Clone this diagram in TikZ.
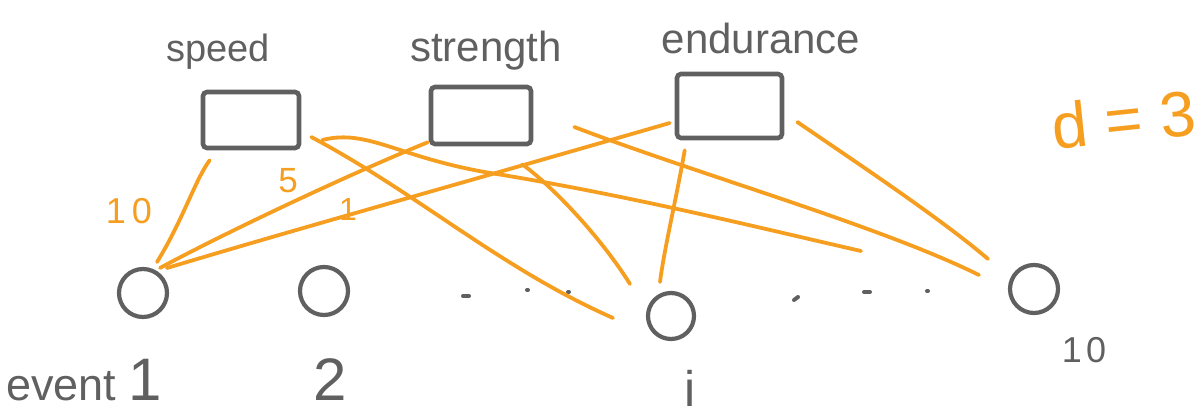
\documentclass[tikz,border=0pt]{standalone}
\usepackage{fontspec}
\setmainfont{Liberation Sans}
\usetikzlibrary{calc}
\definecolor{ink}{RGB}{96,96,96}
\definecolor{pen}{RGB}{246,158,32}
\newcommand{\fsz}[1]{\fontsize{#1}{#1}\selectfont}
\begin{document}
\begin{tikzpicture}[x=1pt,y=-1pt,
  attr/.style={draw=ink, line width=4.6pt, rounded corners=4pt, inner sep=0pt},
  event/.style={draw=ink, line width=4.2pt, circle, inner sep=0pt, minimum size=#1},
  link/.style={draw=pen, line width=3.8pt, line cap=round},
  word/.style={text=ink, inner sep=0pt, anchor=base},
  weight/.style={text=pen, inner sep=0pt, anchor=base},
  dot/.style={ink, line width=4pt, line cap=round}]
\useasboundingbox (0,0) rectangle (1202,417);

% attribute boxes
\node[attr, minimum width=96pt, minimum height=56pt]  (speed)     at (251,120)   {};
\node[attr, minimum width=100pt, minimum height=57pt] (strength)  at (481,115.5) {};
\node[attr, minimum width=105pt, minimum height=64pt] (endurance) at (729.5,106) {};

% attribute names
\node[word, font=\fsz{38}] (tspeed)     at (218,62) {speed};
\node[word, font=\fsz{42}] (tstrength)  at (486,62) {strength};
\node[word, font=\fsz{42}] (tendurance) at (761,54) {endurance};

% events
\node[event=48pt] (e1)  at (143,293) {};
\node[event=48pt] (e2)  at (324,291) {};
\node[event=46pt] (ei)  at (671,316) {};
\node[event=48pt] (e10) at (1034,289) {};

% event labels
\node[word, font=\fsz{45}, anchor=base west] (tev1) at (6,400) {event\hspace{12pt}{\fsz{60}1}};
\node[word, font=\fsz{60}] (tev2)  at (330,400)  {2};
\node[word, font=\fsz{50}] (tevi)  at (690,406)  {i};
\node[word, font=\fsz{36}] (tev10) at (1084,362) {1\hspace{4pt}0};

% ellipsis dots
\draw[dot] (463,296) -- (469,296);
\draw[dot] (527,290) -- (528,290);
\draw[dot] (568,292) -- (569,292);
\draw[dot] (794,300) -- (798,297);
\draw[dot] (864,292) -- (870,292);
\draw[dot] (927,291) -- (928,291);

% weighted links
\coordinate (loose) at (861,251);
\draw[link] ($(speed.south west)+(9,10)$) .. controls (196,178) and (182,222) .. ($(e1)+(14,-31)$);
\draw[link] ($(strength.south west)+(-1,-4)$) .. controls (340,178) and (215,238) .. ($(e1)+(17,-25)$);
\draw[link] ($(endurance.west)+(-5,17)$) .. controls (480,178) and (300,228) .. ($(e1)+(24,-25)$);
\draw[link] ($(speed.east)+(10,17)$) .. controls (420,195) and (500,268) .. ($(ei)+(-58,2)$);
\draw[link] ($(speed.east)+(21,20)$) .. controls (370,128) and (400,160) .. (503,175)
            .. controls (640,198) and (760,228) .. (loose);
\draw[link] ($(strength.south east)+(-11,18)$) .. controls (552,186) and (600,236) .. ($(ei)+(-41,-32)$);
\draw[link] ($(strength.east)+(41,11.5)$) .. controls (700,175) and (880,226) .. ($(e10)+(-55,-14)$);
\draw[link] ($(endurance.south west)+(10,10)$) .. controls (676,200) and (664,250) .. ($(ei)+(-11,-34)$);
\draw[link] ($(endurance.east)+(13,16)$) .. controls (860,165) and (940,218) .. ($(e10)+(-46,-30)$);

% weights and dimension
\node[weight, font=\fsz{36}] (w10) at (129,223) {1\hspace{6pt}0};
\node[weight, font=\fsz{35}] (w5)  at (288,193) {5};
\node[weight, font=\fsz{32}] (w1)  at (348,220) {1};
\node[weight, font=\fsz{64}, rotate=6] (dim) at (1126,142) {d = 3};
\end{tikzpicture}
\end{document}
